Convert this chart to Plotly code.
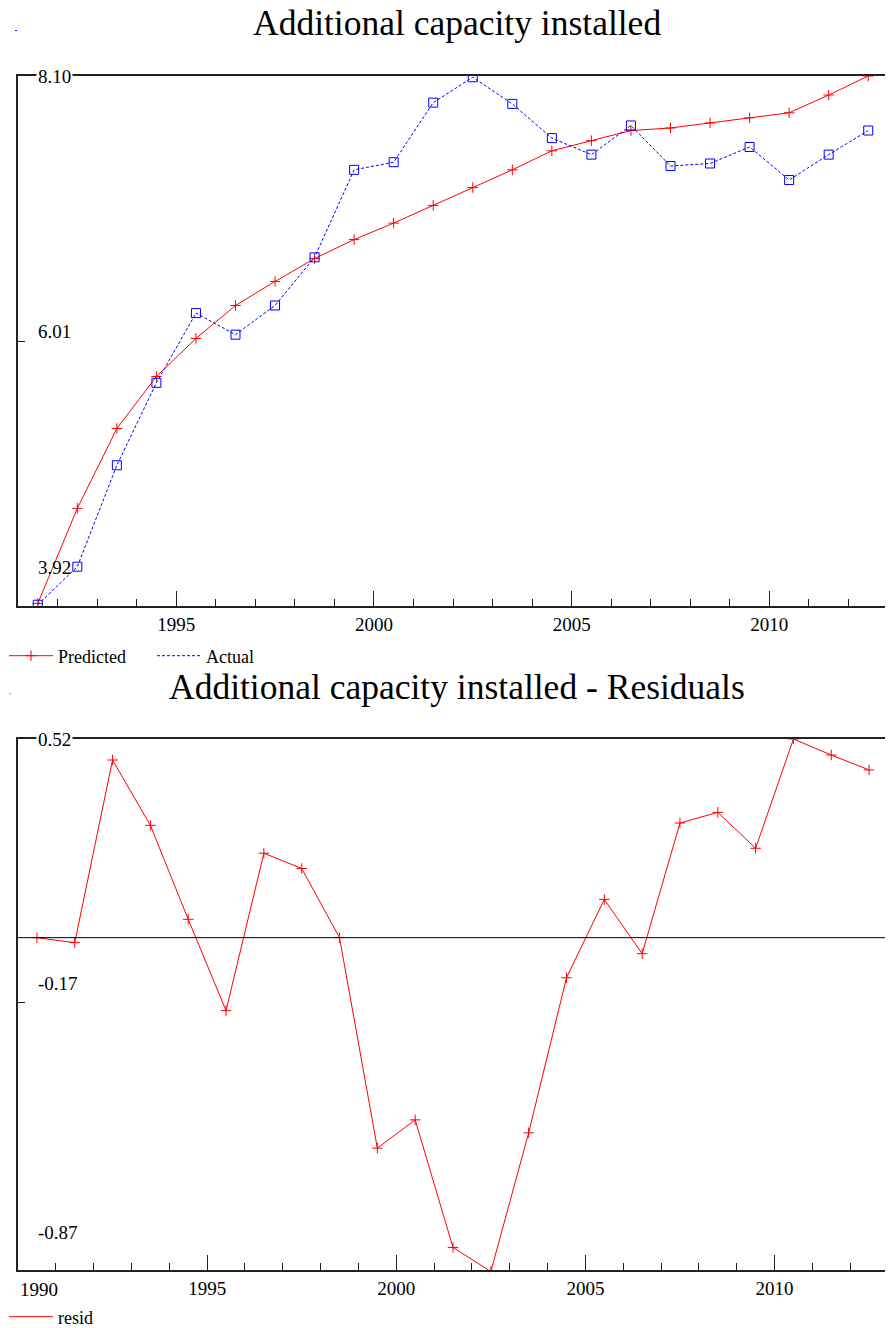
import plotly.graph_objects as go

# ---------------- data ----------------
years_top = list(range(1991, 2013))
predicted = [3.94, 4.69, 5.32, 5.73, 6.03, 6.29, 6.48, 6.66, 6.81, 6.94, 7.08,
             7.22, 7.36, 7.51, 7.59, 7.67, 7.69, 7.73, 7.77, 7.81, 7.95, 8.10]
actual = [3.93, 4.23, 5.03, 5.68, 6.23, 6.06, 6.29, 6.67, 7.36, 7.42, 7.89,
          8.09, 7.88, 7.61, 7.48, 7.71, 7.39, 7.41, 7.54, 7.28, 7.48, 7.67]

years_bot = list(range(1990, 2013))
resid = [0.00, -0.013, 0.465, 0.294, 0.048, -0.191, 0.221, 0.181, 0.00, -0.551,
         -0.477, -0.811, -0.874, -0.511, -0.105, 0.100, -0.042, 0.300, 0.328,
         0.234, 0.52, 0.478, 0.439]

top_yticks = [3.92, 6.01, 8.10]
bot_yticks = [-0.87, -0.17, 0.52]
top_xrange = [1991, 2013]
bot_xrange = [1990, 2013]
top_xticks = [1995, 2000, 2005, 2010]
bot_xticks = [1990, 1995, 2000, 2005, 2010]
title_top = "Additional capacity installed"
title_bot = "Additional capacity installed - Residuals"

# ---------------- layout helpers ----------------
VW, VH = 893, 1328          # browser window
BODY = 8                    # default page margin around the plot div
W, H = VW - BODY, VH - BODY
FONT = "Liberation Serif"
AX = "#222222"


def px_x(p):
    """window pixel -> paper fraction"""
    return (p - BODY) / W


def px_y(p):
    return 1 - (p - BODY) / H


def mid(ys):
    return [y + 0.5 for y in ys]  # annual observations drawn mid-year


fig = go.Figure()

cross = dict(symbol="cross-thin", size=7.5, color="red", line=dict(color="red", width=1))
square = dict(symbol="square-open", size=9, color="blue", line=dict(color="blue", width=1))

# Predicted (legend shows line + cross)
fig.add_trace(go.Scatter(
    x=mid(years_top), y=predicted, name="Predicted", mode="lines+markers",
    line=dict(color="red", width=1), marker=cross,
    xaxis="x", yaxis="y", legend="legend"))
# Actual: line (legend shows dashed line only) + markers
fig.add_trace(go.Scatter(
    x=mid(years_top), y=actual, name="Actual", mode="lines",
    line=dict(color="blue", width=1, dash="3px,2px"),
    xaxis="x", yaxis="y", legend="legend"))
fig.add_trace(go.Scatter(
    x=mid(years_top), y=actual, name="Actual", mode="markers", marker=square,
    showlegend=False, xaxis="x", yaxis="y"))
# Residuals
fig.add_trace(go.Scatter(
    x=mid(years_bot), y=resid, name="resid", mode="lines",
    line=dict(color="red", width=1),
    xaxis="x2", yaxis="y2", legend="legend2"))
fig.add_trace(go.Scatter(
    x=mid(years_bot), y=resid, name="resid", mode="markers", marker=cross,
    showlegend=False, xaxis="x2", yaxis="y2"))

xdom = [px_x(18), px_x(888)]
top_dom = [px_y(606), px_y(76)]
bot_dom = [px_y(1270), px_y(739)]


def xaxis(rng, anchor, tv):
    return dict(
        domain=xdom, range=rng, anchor=anchor,
        showline=True, linecolor=AX, linewidth=1.5, mirror=True,
        showgrid=False, zeroline=False,
        tickmode="array", tickvals=tv,
        ticktext=["" if v == rng[0] else str(v) for v in tv],
        ticks="inside", ticklen=15, tickwidth=1.2, tickcolor=AX,
        minor=dict(dtick=1, tick0=1990, ticks="inside", ticklen=7, tickwidth=1.2,
                   tickcolor=AX, showgrid=False),
        tickfont=dict(family=FONT, size=19, color="black"),
        ticklabelstandoff=0,
    )


def yaxis(rng, dom, anchor, tv):
    return dict(
        domain=dom, range=rng, anchor=anchor,
        showline=True, linecolor=AX, linewidth=1.5, mirror=True,
        showgrid=False, zeroline=False,
        tickvals=tv, ticks="inside", ticklen=7, tickwidth=1.2, tickcolor=AX,
        showticklabels=False,
    )


fig.update_layout(
    width=W, height=H, autosize=False,
    margin=dict(l=0, r=0, t=0, b=0, autoexpand=False),
    paper_bgcolor="white", plot_bgcolor="white",
    xaxis=xaxis(top_xrange, "y", top_xticks),
    yaxis=yaxis([top_yticks[0], top_yticks[-1]], top_dom, "x", top_yticks),
    xaxis2=xaxis(bot_xrange, "y2", bot_xticks),
    yaxis2=yaxis([bot_yticks[0], bot_yticks[-1]], bot_dom, "x2", bot_yticks),
    legend=dict(orientation="h", x=px_x(4), y=px_y(656), xanchor="left", yanchor="middle",
                font=dict(family=FONT, size=18, color="black"),
                bgcolor="rgba(0,0,0,0)", itemwidth=44, entrywidth=89),
    legend2=dict(orientation="h", x=px_x(4), y=px_y(1317), xanchor="left", yanchor="middle",
                 font=dict(family=FONT, size=18, color="black"),
                 bgcolor="rgba(0,0,0,0)", itemwidth=44),
    showlegend=True,
)

# zero line in residual panel
fig.add_shape(type="line", xref="x2 domain", yref="y2", x0=0, x1=1, y0=0, y1=0,
              line=dict(color="black", width=1))

# tiny colour specks present at the left of each title in the original export
fig.add_shape(type="rect", xref="paper", yref="paper", x0=px_x(15), x1=px_x(17),
              y0=px_y(31), y1=px_y(30), line=dict(width=0), fillcolor="blue")
fig.add_shape(type="rect", xref="paper", yref="paper", x0=px_x(9), x1=px_x(11),
              y0=px_y(694), y1=px_y(693), line=dict(width=0), fillcolor="#ff8080")

# titles
fig.add_annotation(text=title_top, xref="paper", yref="paper", x=px_x(457), y=px_y(23),
                   xanchor="center", yanchor="middle",
                   showarrow=False, font=dict(family=FONT, size=35.5, color="black"))
fig.add_annotation(text=title_bot, xref="paper", yref="paper", x=px_x(457), y=px_y(687),
                   xanchor="center", yanchor="middle",
                   showarrow=False, font=dict(family=FONT, size=35.5, color="black"))

# first year label of the residual axis sits inside the frame
fig.add_annotation(text=str(bot_xticks[0]), xref="x2", yref="paper", x=bot_xrange[0],
                   y=px_y(1289), xanchor="left", yanchor="middle", showarrow=False,
                   font=dict(family=FONT, size=19, color="black"))


# y tick labels (placed inside the frame, EViews style)
def ylabels(vals, axis_ref, offsets):
    for v, off in zip(vals, offsets):
        fig.add_annotation(text=f"{v:.2f}", xref="paper", yref=axis_ref, x=px_x(36), y=v,
                           xanchor="left", yanchor="middle", yshift=off, showarrow=False,
                           bgcolor="white" if off == 0 else None, borderpad=1,
                           font=dict(family=FONT, size=19, color="black"))


ylabels(top_yticks, "y", [39, 10, 0])
ylabels(bot_yticks, "y2", [38, 19, 0])

fig.write_html("out.html")
